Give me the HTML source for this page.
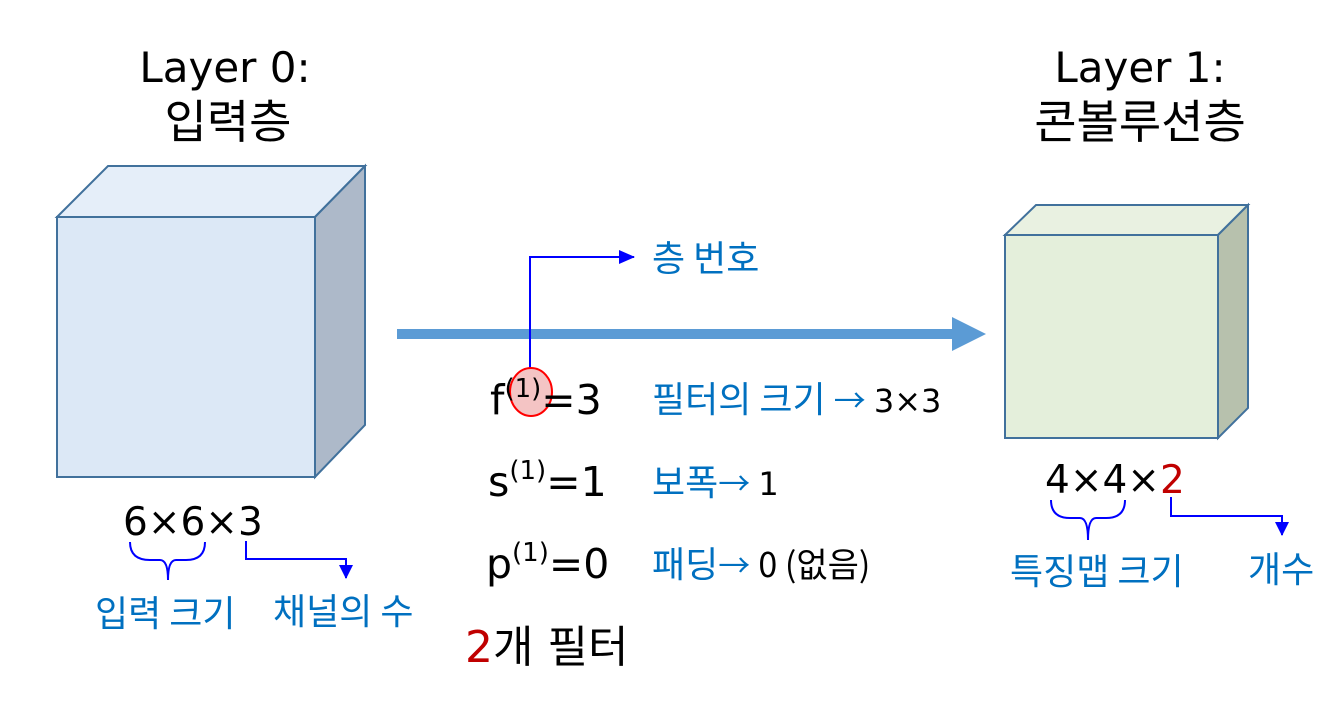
<!DOCTYPE html>
<html><head><meta charset="utf-8"><style>
html,body{margin:0;padding:0;background:#fff;}
svg{display:block;}
text{font-family:"DejaVu Sans","Noto Sans CJK KR",sans-serif;}
.b{fill:#0070c0;font-size:36px;font-family:"Noto Sans CJK KR","DejaVu Sans",sans-serif;}
.k{fill:#000;}
</style></head><body>
<svg width="1342" height="716" viewBox="0 0 1342 716">
<defs>
<marker id="ah" markerWidth="14" markerHeight="14" refX="7" refY="13" orient="0" markerUnits="userSpaceOnUse"><path d="M0,0 L14,0 L7,14 z" fill="#0000ff"/></marker>
<marker id="ah2" markerWidth="16" markerHeight="14" refX="15" refY="7" orient="auto" markerUnits="userSpaceOnUse"><path d="M0,0 L16,7 L0,14 z" fill="#0000ff"/></marker>
</defs>
<!-- titles -->
<text x="225" y="82" font-size="42" text-anchor="middle" class="k">Layer 0:</text>
<text x="228" y="138" font-size="46" text-anchor="middle" class="k">입력층</text>
<text x="1140" y="82" font-size="42" text-anchor="middle" class="k">Layer 1:</text>
<text x="1140" y="138" font-size="46" text-anchor="middle" class="k">콘볼루션층</text>
<!-- left cube -->
<g stroke="#41719c" stroke-width="2">
<polygon points="57,217 108,166 365,166 315,217" fill="#e5eef9"/>
<polygon points="315,217 365,166 365,425 315,477" fill="#adb9c9"/>
<rect x="57" y="217" width="258" height="260" fill="#dce8f6"/>
</g>
<!-- right cube -->
<g stroke="#41719c" stroke-width="2">
<polygon points="1005,235 1036,205 1248,205 1218,235" fill="#e9f1e1"/>
<polygon points="1218,235 1248,205 1248,408 1218,438" fill="#b7c1ad"/>
<rect x="1005" y="235" width="213" height="203" fill="#e4efdb"/>
</g>
<!-- main arrow -->
<rect x="397" y="329" width="560" height="10" fill="#5b9bd5"/>
<polygon points="952,317 986,334 952,351" fill="#5b9bd5"/>
<!-- layer number callout -->
<polyline points="530,370 530,257 634,257" fill="none" stroke="#0000ff" stroke-width="2" marker-end="url(#ah2)"/>
<text x="652" y="271" class="b">층 번호</text>
<ellipse cx="531" cy="392" rx="21" ry="24" fill="#f4c4c4" stroke="#ff0000" stroke-width="2"/>
<!-- formulas -->
<text x="490" y="414" font-size="41" class="k">f<tspan dy="-17" font-size="26">(1)</tspan><tspan dy="17">=3</tspan></text>
<text x="488" y="496" font-size="41" class="k">s<tspan dy="-17" font-size="26">(1)</tspan><tspan dy="17">=1</tspan></text>
<text x="486" y="578" font-size="41" class="k">p<tspan dy="-17" font-size="26">(1)</tspan><tspan dy="17">=0</tspan></text>
<text x="652" y="412" class="b">필터의 크기 <tspan font-size="32">→</tspan> <tspan fill="#000" font-size="32" font-family="DejaVu Sans">3×3</tspan></text>
<text x="652" y="495" class="b">보폭<tspan font-size="32">→</tspan> <tspan fill="#000" font-size="32" font-family="DejaVu Sans">1</tspan></text>
<text x="652" y="577" class="b">패딩<tspan font-size="32">→</tspan> <tspan fill="#000" font-size="34">0 (없음)</tspan></text>
<text x="465" y="662" font-size="44" class="k" font-family="Noto Sans CJK KR"><tspan fill="#c00000">2</tspan>개 필터</text>
<!-- left labels -->
<text x="123" y="535" font-size="39" class="k">6×6×3</text>
<path d="M130,542 Q130,560 150,560 L160,560 Q168,560 168,580 Q168,560 176,560 L186,560 Q205,560 205,542" fill="none" stroke="#0000ff" stroke-width="2"/>
<polyline points="246,541 246,559 346,559 346,578" fill="none" stroke="#0000ff" stroke-width="2" marker-end="url(#ah)"/>
<text x="95" y="626" class="b">입력 크기</text>
<text x="273" y="624" class="b">채널의 수</text>
<!-- right labels -->
<text x="1045" y="493" font-size="39" class="k">4×4×<tspan fill="#c00000">2</tspan></text>
<path d="M1051,500 Q1051,518 1070,518 L1080,518 Q1088,518 1088,540 Q1088,518 1096,518 L1106,518 Q1125,518 1125,500" fill="none" stroke="#0000ff" stroke-width="2"/>
<polyline points="1171,497 1171,516 1282,516 1282,535" fill="none" stroke="#0000ff" stroke-width="2" marker-end="url(#ah)"/>
<text x="1010" y="584" class="b">특징맵 크기</text>
<text x="1248" y="582" class="b">개수</text>
</svg>
</body></html>
